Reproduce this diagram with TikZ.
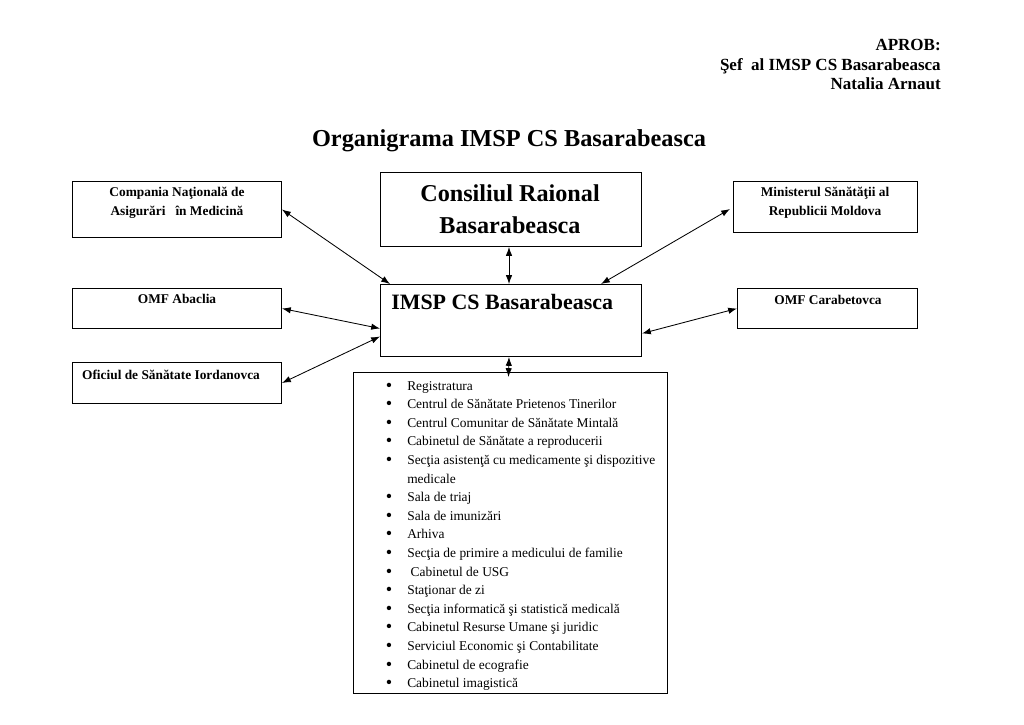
\documentclass[tikz,border=0pt]{standalone}
\usepackage{fontspec}
\setmainfont{Liberation Serif}
\usetikzlibrary{arrows.meta,calc}
\begin{document}
\begin{tikzpicture}[x=0.025cm,y=-0.025cm,
  box/.style={draw,line width=0.7pt,inner sep=0pt,anchor=north west},
  conn/.style={line width=0.6pt,{Latex[length=2.2mm,width=1.6mm]}-{Latex[length=2.2mm,width=1.6mm]}},
  small/.style={font=\bfseries\fontsize{9.5}{13.5}\selectfont,align=center,inner sep=0pt},
  big/.style={font=\bfseries\fontsize{17.2}{22.5}\selectfont,align=center,inner sep=0pt},
  hdr/.style={font=\bfseries\fontsize{12.1}{13}\selectfont,inner sep=0pt,anchor=base east},
  item/.style={font=\fontsize{9.55}{11}\selectfont,inner sep=0pt,anchor=base west},
  bul/.style={font=\fontsize{13}{13}\selectfont,inner sep=0pt,anchor=base}]
\useasboundingbox (0,0) rectangle (1024,724);
% header
\node[hdr] (h1) at (941,50) {APROB:};
\node[hdr] (h2) at (941,70) {Şef\ \ al IMSP CS Basarabeasca};
\node[hdr] (h3) at (941,89) {Natalia Arnaut};
\node[font=\bfseries\fontsize{17.3}{20}\selectfont,inner sep=0pt,anchor=base] (title) at (509,146) {Organigrama IMSP CS Basarabeasca};
% boxes
\node[box,minimum width=209*0.025cm,minimum height=56*0.025cm] (comp) at (72,181) {};
\node[box,minimum width=261*0.025cm,minimum height=74*0.025cm] (cons) at (380,172) {};
\node[box,minimum width=184*0.025cm,minimum height=51*0.025cm] (min) at (733,181) {};
\node[box,minimum width=209*0.025cm,minimum height=40*0.025cm] (abac) at (72,288) {};
\node[box,minimum width=261*0.025cm,minimum height=72*0.025cm] (imsp) at (380,284) {};
\node[box,minimum width=180*0.025cm,minimum height=40*0.025cm] (carab) at (737,288) {};
\node[box,minimum width=209*0.025cm,minimum height=41*0.025cm] (ofic) at (72,362) {};
\node[box,minimum width=314*0.025cm,minimum height=321*0.025cm] (list) at (353,372) {};
% box texts
\node[small] (compT) at (177,202.5) {Compania Naţională de\\Asigurări\ \ \ în Medicină};
\node[big] (consT) at (510,209) {Consiliul Raional\\Basarabeasca};
\node[small] (minT) at (825,202.5) {Ministerul Sănătăţii al\\Republicii Moldova};
\node[small] (abacT) at (177,299) {OMF Abaclia};
\node[font=\bfseries\fontsize{15.6}{18}\selectfont,inner sep=0pt,anchor=base west] (imspT) at (391,309) {IMSP CS Basarabeasca};
\node[small] (carabT) at (828,300) {OMF Carabetovca};
\node[small] (oficT) at (171,375) {Oficiul de Sănătate Iordanovca};
% list
\foreach \t [count=\i from 0] in {Registratura,Centrul de Sănătate Prietenos Tinerilor,Centrul Comunitar de Sănătate Mintală,Cabinetul de Sănătate a reproducerii,Secţia asistenţă cu medicamente şi dispozitive,medicale,Sala de triaj,Sala de imunizări,Arhiva,Secţia de primire a medicului de familie,\ Cabinetul de USG,Staţionar de zi,Secţia informatică şi statistică medicală,Cabinetul Resurse Umane şi juridic,Serviciul Economic şi Contabilitate,Cabinetul de ecografie,Cabinetul imagistică}{
  \node[item] (li\i) at (407,{390+18.6*\i}) {\t};
  \ifnum\i=5\else\node[bul] (lb\i) at (389,{391+18.6*\i}) {\textbullet};\fi
}
% connectors
\draw[conn] (comp.east) -- ($(imsp.north west)+(10,0)$);
\draw[conn] ($(cons.south)+(-2,0)$) -- ($(imsp.north)+(-2,0)$);
\draw[conn] ($(min.west)+(-3,2)$) -- ($(imsp.north west)+(221,0)$);
\draw[conn] (abac.east) -- ($(imsp.west)+(0,8)$);
\draw[conn] (ofic.east) -- ($(imsp.west)+(0,16)$);
\draw[conn] (carab.west) -- ($(imsp.east)+(0,13)$);
\draw[conn] ($(imsp.south)+(-2,0)$) -- ($(list.north)+(-2,5)$);
\end{tikzpicture}
\end{document}
